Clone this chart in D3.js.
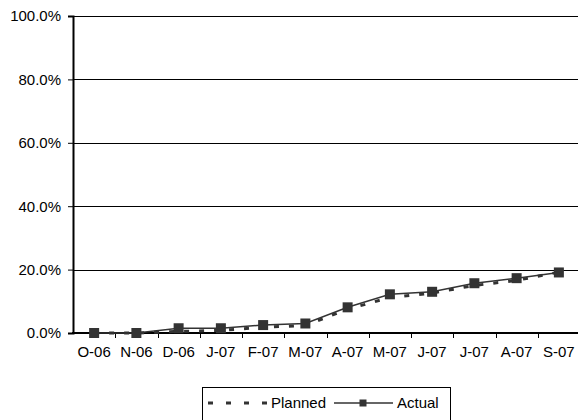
<!DOCTYPE html>
<html>
<head>
<meta charset="utf-8">
<script src="https://cdn.jsdelivr.net/npm/d3@7"></script>
<style>
  html, body { margin: 0; padding: 0; background: #fff; }
  svg { display: block; }
  text { font-family: "Liberation Sans", Arial, sans-serif; font-size: 15px; fill: #000; }
</style>
</head>
<body>
<svg id="chart" width="578" height="420"></svg>
<script>
// Cumulative progress, Oct 2006 – Sep 2007 (percent)
const months = ["O-06", "N-06", "D-06", "J-07", "F-07", "M-07", "A-07", "M-07", "J-07", "J-07", "A-07", "S-07"];
const planned = [0, 0, 0.5, 0.8, 1.8, 2.4, 7.5, 11.2, 12.6, 15.0, 16.6, 19.2];
const actual  = [0, 0, 1.5, 1.5, 2.5, 3.0, 8.1, 12.2, 13.0, 15.7, 17.3, 19.1];
const yTicks = [0, 20, 40, 60, 80, 100];

const svg = d3.select("#chart");
const plotLeft = 73, plotRight = 580, plotTop = 16, plotBottom = 333;

// Month slots are indexed so repeated labels stay distinct
const x = d3.scaleBand().domain(d3.range(months.length)).range([plotLeft, plotRight]).padding(0);
const y = d3.scaleLinear().domain([0, 100]).range([plotBottom, plotTop]);
const cx = i => x(i) + x.bandwidth() / 2;

// Horizontal gridlines
svg.append("g")
  .selectAll("line")
  .data(yTicks.filter(d => d > 0))
  .join("line")
  .attr("x1", plotLeft).attr("x2", plotRight)
  .attr("y1", d => Math.round(y(d)) + 0.5).attr("y2", d => Math.round(y(d)) + 0.5)
  .attr("stroke", "#000").attr("stroke-width", 1);

// Y axis with percentage labels
const yAxis = svg.append("g")
  .attr("transform", `translate(${plotLeft},0)`)
  .call(d3.axisLeft(y).tickValues(yTicks).tickSize(5).tickPadding(7)
    .tickFormat(d => d.toFixed(1) + "%"));
yAxis.select(".domain").attr("stroke", "#000").attr("stroke-width", 2);
yAxis.selectAll(".tick line").attr("stroke", "#000");
yAxis.selectAll(".tick text").attr("font-size", 15).attr("font-family", "Liberation Sans, Arial, sans-serif").attr("fill", "#000");

// X axis: labels centered in each month slot, tick marks on slot boundaries
const xAxis = svg.append("g")
  .attr("transform", `translate(0,${plotBottom})`)
  .call(d3.axisBottom(x).tickSize(0).tickPadding(13).tickFormat(i => months[i]));
xAxis.select(".domain").remove();
xAxis.selectAll(".tick text").attr("font-size", 15).attr("font-family", "Liberation Sans, Arial, sans-serif").attr("fill", "#000");

svg.append("g")
  .selectAll("line")
  .data(d3.range(1, months.length))
  .join("line")
  .attr("x1", i => Math.round(x(i)) + 0.5).attr("x2", i => Math.round(x(i)) + 0.5)
  .attr("y1", plotBottom).attr("y2", plotBottom + 5)
  .attr("stroke", "#000").attr("stroke-width", 1);

svg.append("line")
  .attr("x1", plotLeft - 1).attr("x2", plotRight)
  .attr("y1", plotBottom).attr("y2", plotBottom)
  .attr("stroke", "#000").attr("stroke-width", 2);

const line = d3.line().x((d, i) => cx(i)).y(d => y(d));

// Planned: heavy dashed line
svg.append("path")
  .datum(planned)
  .attr("d", line)
  .attr("fill", "none")
  .attr("stroke", "#333")
  .attr("stroke-width", 3)
  .attr("stroke-dasharray", "5,10");

// Actual: solid line with square markers
svg.append("path")
  .datum(actual)
  .attr("d", line)
  .attr("fill", "none")
  .attr("stroke", "#333")
  .attr("stroke-width", 1.5);

svg.append("g")
  .selectAll("rect")
  .data(actual)
  .join("rect")
  .attr("x", (d, i) => cx(i) - 5)
  .attr("y", d => y(d) - 5)
  .attr("width", 10).attr("height", 10)
  .attr("fill", "#333");

// Legend
const lg = svg.append("g");
lg.append("rect")
  .attr("x", 202.5).attr("y", 387.5)
  .attr("width", 248).attr("height", 50)
  .attr("fill", "#fff").attr("stroke", "#000").attr("stroke-width", 1);
lg.append("line")
  .attr("x1", 206).attr("x2", 268).attr("y1", 403).attr("y2", 403)
  .attr("stroke", "#333").attr("stroke-width", 3).attr("stroke-dasharray", "5,13")
  .attr("stroke-dashoffset", -2);
lg.append("text").attr("x", 271).attr("y", 408).text("Planned");
lg.append("line")
  .attr("x1", 334).attr("x2", 393).attr("y1", 403).attr("y2", 403)
  .attr("stroke", "#333").attr("stroke-width", 1.5);
lg.append("rect")
  .attr("x", 359.5).attr("y", 399.5).attr("width", 7).attr("height", 7)
  .attr("fill", "#333");
lg.append("text").attr("x", 397).attr("y", 408).text("Actual");
</script>
</body>
</html>
